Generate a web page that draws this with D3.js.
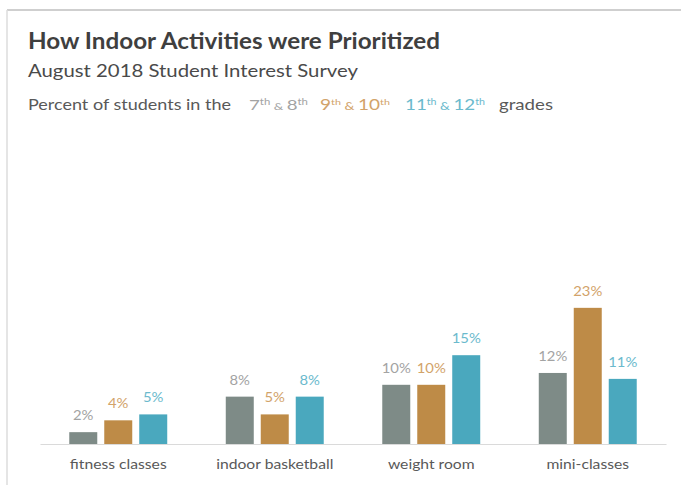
<!DOCTYPE html>
<html>
<head>
<meta charset="utf-8">
<script src="https://cdn.jsdelivr.net/npm/d3@7"></script>
<style>
  html, body { margin: 0; padding: 0; background: #fff; }
  svg { display: block; font-family: Lato, "Open Sans", sans-serif; }
</style>
</head>
<body>
<svg id="chart" width="681" height="485"></svg>
<script>
// Survey results: share of students (percent) choosing each indoor activity, by grade band
const categories = ["fitness classes", "indoor basketball", "weight room", "mini-classes"];
const grades = ["7-8", "9-10", "11-12"];
const grades78 = [2, 8, 10, 12];
const grades910 = [4, 5, 10, 23];
const grades1112 = [5, 8, 15, 11];
const seriesValues = [grades78, grades910, grades1112];

const barColors = ["#7e8b87", "#be8b47", "#4aa8be"];
const labelColors = ["#a3a3a3", "#d2a36a", "#6bbacd"];

// the body text is set slightly wide; widen each text run by this factor
const WIDEN = 1.14;
function widen(sel, factor = WIDEN) {
  sel.each(function () {
    const w = this.getComputedTextLength();
    d3.select(this).attr("textLength", w * factor).attr("lengthAdjust", "spacingAndGlyphs");
  });
  return sel;
}

const svg = d3.select("#chart");

// panel border
svg.append("line").attr("x1", 7).attr("x2", 681).attr("y1", 10).attr("y2", 10)
  .attr("stroke", "#cfcfcf").attr("stroke-width", 2);
svg.append("line").attr("x1", 7).attr("x2", 7).attr("y1", 10).attr("y2", 485)
  .attr("stroke", "#dcdcdc").attr("stroke-width", 1.5);

// headings
svg.append("text").attr("x", 28).attr("y", 49)
  .attr("font-size", 22).attr("font-weight", 700).attr("fill", "#3f3f3f")
  .attr("textLength", 412).attr("lengthAdjust", "spacingAndGlyphs")
  .text("How Indoor Activities were Prioritized");
svg.append("text").attr("x", 28).attr("y", 77)
  .attr("font-size", 17.5).attr("fill", "#4a4a4a")
  .attr("textLength", 330).attr("lengthAdjust", "spacingAndGlyphs")
  .text("August 2018 Student Interest Survey");

// legend line with superscript grade labels
svg.append("text").attr("x", 28).attr("y", 110)
  .attr("font-size", 15).attr("fill", "#595959")
  .attr("textLength", 203).attr("lengthAdjust", "spacingAndGlyphs")
  .text("Percent of students in the");

function gradeLabel(parts, color, x, width) {
  const t = svg.append("text").attr("x", x).attr("y", 110).attr("fill", color);
  parts.forEach(p => {
    const s = t.append("tspan").text(p[0]).attr("font-size", p[1]);
    if (p[2]) s.attr("dy", p[2]);
  });
  const natural = t.node().getComputedTextLength();
  t.attr("transform", `translate(${x},0) scale(${width / natural},1) translate(${-x},0)`);
  return t;
}
gradeLabel([["7", 14], ["th", 8.5, -5], [" & ", 10, 5], ["8", 14], ["th", 8.5, -5]], labelColors[0], 249, 59);
gradeLabel([["9", 15], ["th", 8.5, -5], [" & ", 11, 5], ["10", 15], ["th", 8.5, -5]], labelColors[1], 320, 70);
gradeLabel([["11", 15], ["th", 8.5, -5], [" & ", 11, 5], ["12", 15], ["th", 8.5, -5]], labelColors[2], 405, 80);
svg.append("text").attr("x", 499).attr("y", 110)
  .attr("font-size", 15).attr("fill", "#595959")
  .attr("textLength", 54).attr("lengthAdjust", "spacingAndGlyphs")
  .text("grades");

// scales
const baseline = 444;
const x0 = d3.scaleBand().domain(categories).range([40, 666])
  .paddingInner(0.374).paddingOuter(0.187);
const x1 = d3.scaleBand().domain(grades).range([0, x0.bandwidth()])
  .paddingInner(0.2).paddingOuter(0);
const y = d3.scaleLinear().domain([0, 25]).range([baseline, 296]);

// baseline axis with category names
const xAxis = d3.axisBottom(d3.scaleBand().domain(categories).range([40, 666]))
  .tickSize(0).tickPadding(15);
const axisG = svg.append("g").attr("transform", `translate(0,${baseline})`).call(xAxis);
axisG.select(".domain").attr("stroke", "#dadada").attr("stroke-width", 1.2);
widen(axisG.selectAll(".tick text").attr("font-size", 14).attr("fill", "#595959")
  .attr("font-family", "Lato, 'Open Sans', sans-serif"), 1.12);

// bars and value labels
const groups = svg.selectAll("g.cat").data(categories).join("g")
  .attr("class", "cat")
  .attr("transform", d => `translate(${x0(d)},0)`);

grades.forEach((g, gi) => {
  groups.append("rect")
    .attr("x", x1(g))
    .attr("width", x1.bandwidth())
    .attr("y", (d, ci) => y(seriesValues[gi][ci]))
    .attr("height", (d, ci) => baseline - y(seriesValues[gi][ci]))
    .attr("fill", barColors[gi]);
  widen(groups.append("text")
    .attr("x", x1(g) + x1.bandwidth() / 2)
    .attr("y", (d, ci) => y(seriesValues[gi][ci]) - 12)
    .attr("text-anchor", "middle")
    .attr("font-size", 13)
    .attr("fill", labelColors[gi])
    .text((d, ci) => seriesValues[gi][ci] + "%"));
});
</script>
</body>
</html>
